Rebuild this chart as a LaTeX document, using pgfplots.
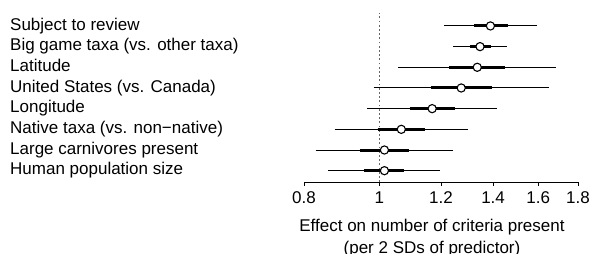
\documentclass[border=0pt]{standalone}
\usepackage{fontspec}
\setmainfont{Liberation Sans}
\usepackage{pgfplots}
\pgfplotsset{compat=1.18}
\begin{document}
\fontsize{17bp}{21.8bp}\selectfont
\begin{tikzpicture}[font=\fontsize{17bp}{21.8bp}\selectfont]
\useasboundingbox (0,0) rectangle (591bp,254bp);
\begin{axis}[
  at={(304bp,72bp)}, anchor=south west,
  width=274bp, height=169.3bp, scale only axis,
  xmode=log, xmin=0.8, xmax=1.8, ymin=0.453, ymax=8.64,
  clip=false,
  axis x line*=bottom, axis y line*=left,
  y axis line style={draw=none},
  x axis line style={line width=0.9bp, -},
  xtick={0.8,1,1.2,1.4,1.6,1.8},
  xticklabels={0.8,1,1.2,1.4,1.6,1.8},
  minor xtick={},
  tick align=outside,
  major tick length=4bp,
  xtick style={line width=0.9bp, black},
  ytick={1,2,3,4,5,6,7,8},
  yticklabels={Human population size, Large carnivores present, Native taxa (vs. non−native), Longitude, United States (vs. Canada), Latitude, Big game taxa (vs. other taxa), Subject to review},
  ytick style={draw=none},
  yticklabel style={anchor=base west, inner sep=0pt, xshift=-290bp, yshift=-4.3bp},
  xticklabel style={inner sep=0pt, yshift=-5.5bp},
  tick label style={font=\fontsize{17bp}{21.8bp}\selectfont},
  /pgf/number format/assume math mode=true,
  xlabel={Effect on number of criteria present\\(per 2 SDs of predictor)},
  xlabel style={at={(axis description cs:0.5,0)}, anchor=north, inner sep=0pt, align=center, xshift=-9bp, yshift=-37.3bp, font=\fontsize{17bp}{21.8bp}\selectfont},
]
% reference line at 1
\addplot[black!60, line width=1.3bp, dash pattern=on 1.8bp off 2.4bp] coordinates {(1,0.453) (1,8.64)};
% thin (95%) intervals
\addplot[black, line width=1bp] coordinates {(1.211,8) (1.595,8)};
\addplot[black, line width=1bp] coordinates {(1.244,7) (1.460,7)};
\addplot[black, line width=1bp] coordinates {(1.057,6) (1.689,6)};
\addplot[black, line width=1bp] coordinates {(0.983,5) (1.653,5)};
\addplot[black, line width=1bp] coordinates {(0.964,4) (1.418,4)};
\addplot[black, line width=1bp] coordinates {(0.876,3) (1.299,3)};
\addplot[black, line width=1bp] coordinates {(0.828,2) (1.244,2)};
\addplot[black, line width=1bp] coordinates {(0.860,1) (1.196,1)};
% thick (50%) intervals
\addplot[black, line width=3bp] coordinates {(1.325,8) (1.462,8)};
\addplot[black, line width=3bp] coordinates {(1.309,7) (1.390,7)};
\addplot[black, line width=3bp] coordinates {(1.230,6) (1.452,6)};
\addplot[black, line width=3bp] coordinates {(1.165,5) (1.396,5)};
\addplot[black, line width=3bp] coordinates {(1.094,4) (1.251,4)};
\addplot[black, line width=3bp] coordinates {(0.995,3) (1.143,3)};
\addplot[black, line width=3bp] coordinates {(0.944,2) (1.092,2)};
\addplot[black, line width=3bp] coordinates {(0.955,1) (1.077,1)};
% point estimates
\addplot[only marks, mark=*, mark size=4.1bp, mark options={fill=white, draw=black, line width=1.1bp}] coordinates {
(1.389,8) (1.347,7) (1.336,6) (1.274,5) (1.169,4) (1.067,3) (1.015,2) (1.015,1)};
\end{axis}
\end{tikzpicture}
\end{document}
